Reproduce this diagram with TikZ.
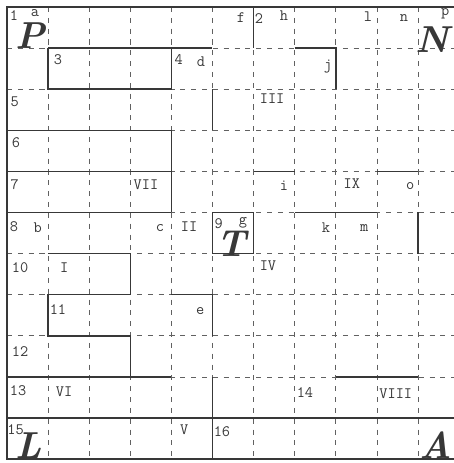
\documentclass[tikz,border=0pt]{standalone}
\usepackage{xcolor}
\definecolor{ink}{gray}{0.22}
\definecolor{pencil}{gray}{0.38}
\begin{document}
\begin{tikzpicture}[
  wall/.style={ink,line width=1pt},
  gridline/.style={pencil,line width=0.55pt,dash pattern=on 3.5pt off 4pt},
  lbl/.style={ink,font=\ttfamily\fontsize{11}{11}\selectfont,inner sep=0pt},
  bigletter/.style={ink,font=\fontsize{26}{26}\selectfont\bfseries\itshape,inner sep=0pt}]
\useasboundingbox (-0.17,0.17) rectangle (10.876,-11.095);
% dashed squares
\foreach \i in {1,...,10} \draw[gridline] (\i,0) -- (\i,-11);
\foreach \j in {1,...,10} \draw[gridline] (0,-\j) -- (11,-\j);
% outline
\draw[wall] (11,0) -- (0,0) -- (0,-11) -- (11,-11);
% heavy bars
\draw[wall] (1,-1) -- (5,-1);
\draw[wall] (1,-1) -- (1,-2) -- (4,-2) -- (4,-1);
\draw[wall] (5,-2) -- (5,-3);
\draw[wall] (0,-3) -- (4,-3) -- (4,-5);
\draw[wall] (0,-4) -- (4,-4);
\draw[wall] (0,-5) -- (4,-5);
\draw[wall] (6,0) -- (6,-1);
\draw[wall] (7,-1) -- (8,-1) -- (8,-2);
\draw[wall] (6,-4) -- (7,-4);
\draw[wall] (9,-4) -- (10,-4);
\draw[wall] (7,-5) -- (9,-5);
\draw[wall] (10,-5) -- (10,-6);
\draw[wall] (5,-5) rectangle (6,-6);
\draw[wall] (1,-6) -- (3,-6) -- (3,-7) -- (1,-7) -- (1,-8) -- (3,-8) -- (3,-9);
\draw[wall] (4,-7) -- (5,-7) -- (5,-8);
\draw[wall] (0,-9) -- (4,-9);
\draw[wall] (8,-9) -- (10,-9);
\draw[wall] (0,-10) -- (11,-10);
\draw[wall] (5,-9) -- (5,-11);
% big corner letters
\node[bigletter] (bigP) at (0.56,-0.70) {P};
\node[bigletter] (bigN) at (10.34,-0.80) {N};
\node[bigletter] (bigT) at (5.47,-5.76) {T};
\node[bigletter] (bigL) at (0.53,-10.68) {L};
\node[bigletter] (bigA) at (10.44,-10.67) {A};
% numbers
\node[lbl] (n1) at (0.17,-0.20) {1};
\node[lbl] (n2) at (6.13,-0.27) {2};
\node[lbl] (n3) at (1.24,-1.29) {3};
\node[lbl] (n4) at (4.18,-1.29) {4};
\node[lbl] (n5) at (0.19,-2.31) {5};
\node[lbl] (n6) at (0.22,-3.31) {6};
\node[lbl] (n7) at (0.19,-4.33) {7};
\node[lbl] (n8) at (0.17,-5.35) {8};
\node[lbl] (n9) at (5.15,-5.28) {9};
\node[lbl] (n10) at (0.32,-6.35) {10};
\node[lbl] (n11) at (1.24,-7.35) {11};
\node[lbl] (n12) at (0.32,-8.39) {12};
\node[lbl] (n13) at (0.27,-9.34) {13};
\node[lbl] (n14) at (7.25,-9.37) {14};
\node[lbl] (n15) at (0.21,-10.28) {15};
\node[lbl] (n16) at (5.23,-10.34) {16};
% letters
\node[lbl] (la) at (0.68,-0.15) {a};
\node[lbl] (lf) at (5.69,-0.27) {f};
\node[lbl] (lh) at (6.74,-0.22) {h};
\node[lbl] (ll) at (8.78,-0.24) {l};
\node[lbl] (ln) at (9.66,-0.27) {n};
\node[lbl] (lp) at (10.66,-0.17) {p};
\node[lbl] (ld) at (4.72,-1.34) {d};
\node[lbl] (lj) at (7.81,-1.44) {j};
\node[lbl] (li) at (6.74,-4.36) {i};
\node[lbl] (lo) at (9.81,-4.36) {o};
\node[lbl] (lb) at (0.75,-5.38) {b};
\node[lbl] (lc) at (3.72,-5.38) {c};
\node[lbl] (lg) at (5.74,-5.24) {g};
\node[lbl] (lk) at (7.76,-5.38) {k};
\node[lbl] (lm) at (8.69,-5.38) {m};
\node[lbl] (le) at (4.70,-7.40) {e};
% roman numerals
\node[lbl] (r1) at (1.39,-6.33) {I};
\node[lbl] (r2) at (4.43,-5.35) {II};
\node[lbl] (r3) at (6.45,-2.24) {III};
\node[lbl] (r4) at (6.35,-6.30) {IV};
\node[lbl] (r5) at (4.31,-10.29) {V};
\node[lbl] (r6) at (1.39,-9.37) {VI};
\node[lbl] (r7) at (3.38,-4.33) {VII};
\node[lbl] (r8) at (9.46,-9.42) {VIII};
\node[lbl] (r9) at (8.39,-4.31) {IX};
\end{tikzpicture}
\end{document}
